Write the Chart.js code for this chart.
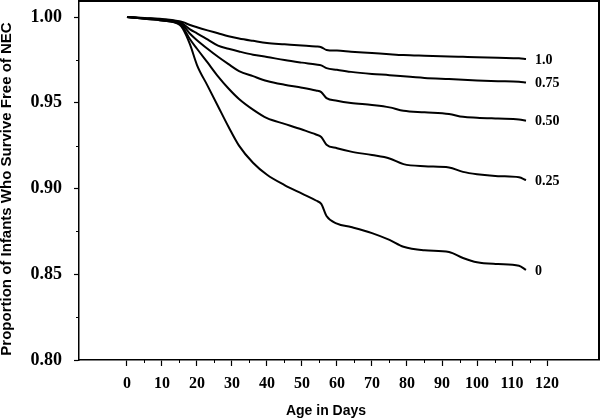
<!DOCTYPE html>
<html>
<head>
<meta charset="utf-8">
<script src="https://cdn.jsdelivr.net/npm/chart.js@4.4.1/dist/chart.umd.min.js"></script>
<style>
html,body{margin:0;padding:0;background:#fff;overflow:hidden;}
#wrap{width:600px;height:418px;overflow:hidden;}
canvas{display:block;}
</style>
</head>
<body>
<div id="wrap"><canvas id="c" width="600" height="418"></canvas></div>
<script>
// ---- data ----
const days    = [0, 5, 10, 15, 16, 18, 20, 23, 26, 29, 32, 36, 40, 45, 50, 54, 55.5, 57, 60, 64, 70, 75, 79, 85, 92, 96, 100, 106, 112, 114];
const surv100 = [1, 0.9994, 0.9988, 0.9975, 0.997, 0.9953, 0.994, 0.9922, 0.9905, 0.9888, 0.9875, 0.9861, 0.9848, 0.9841, 0.9834, 0.9828, 0.9824, 0.9808, 0.9804, 0.9798, 0.979, 0.9783, 0.9778, 0.9774, 0.977, 0.9768, 0.9766, 0.9762, 0.9759, 0.9755];
const surv75  = [1, 0.9993, 0.9986, 0.997, 0.996, 0.9928, 0.9905, 0.9869, 0.9833, 0.9815, 0.9799, 0.978, 0.9767, 0.9749, 0.9734, 0.9723, 0.9718, 0.9702, 0.9692, 0.968, 0.9668, 0.9661, 0.9654, 0.9645, 0.9638, 0.9634, 0.963, 0.9626, 0.9622, 0.9618];
const surv50  = [1, 0.9992, 0.9984, 0.9965, 0.9952, 0.9902, 0.9865, 0.9815, 0.9768, 0.9725, 0.9685, 0.9655, 0.9627, 0.9605, 0.9588, 0.9571, 0.9562, 0.9527, 0.9512, 0.9499, 0.9487, 0.9473, 0.9453, 0.9444, 0.9434, 0.9418, 0.9413, 0.9408, 0.9403, 0.9395];
const surv25  = [1, 0.999, 0.998, 0.996, 0.994, 0.987, 0.9815, 0.9735, 0.9654, 0.9583, 0.9522, 0.946, 0.941, 0.9377, 0.9344, 0.9315, 0.930, 0.9255, 0.9235, 0.9215, 0.9195, 0.9175, 0.9142, 0.913, 0.9123, 0.9097, 0.9083, 0.9072, 0.9065, 0.9049];
const surv0   = [1, 0.999, 0.998, 0.9955, 0.993, 0.984, 0.972, 0.960, 0.948, 0.936, 0.925, 0.915, 0.908, 0.902, 0.897, 0.893, 0.891, 0.884, 0.8795, 0.8775, 0.874, 0.870, 0.866, 0.864, 0.863, 0.8595, 0.857, 0.856, 0.855, 0.8525];
const seriesLabels = ['1.0', '0.75', '0.50', '0.25', '0'];
const xTicks  = [0, 10, 20, 30, 40, 50, 60, 70, 80, 90, 100, 110, 120];
const xMinor  = [5, 15, 25, 35, 45, 55, 65, 75, 85, 95, 105, 115];
const yTicks  = [0.80, 0.85, 0.90, 0.95, 1.00];
const yMinor  = [0.825, 0.875, 0.925, 0.975];
const xTitle  = 'Age in Days';
const yTitle  = 'Proportion of Infants Who Survive Free of NEC';

const X_MIN = -13.714, X_MAX = 134.857, Y_MIN = 0.8, Y_MAX = 1.00933;
const seriesValues = [surv100, surv75, surv50, surv25, surv0];

const datasets = seriesValues.map((vals, i) => ({
  label: seriesLabels[i],
  data: days.map((d, j) => ({x: d, y: vals[j]})),
  borderColor: '#000',
  borderWidth: 2,
  pointRadius: 0,
  fill: false,
  cubicInterpolationMode: 'monotone'
}));

const decor = {
  id: 'decor',
  afterDraw(chart) {
    const ctx = chart.ctx, a = chart.chartArea;
    const xs = chart.scales.x, ys = chart.scales.y;
    ctx.save();
    ctx.setLineDash([]);
    ctx.globalAlpha = 1;
    ctx.fillStyle = '#000000';
    // frame top and right
    ctx.fillRect(a.left, a.top - 1, a.right - a.left + 1, 2);
    ctx.fillRect(a.right - 1, a.top - 1, 2, a.bottom - a.top + 1);
    // minor ticks
    xMinor.forEach(v => { const p = Math.round(xs.getPixelForValue(v)); ctx.fillRect(p, a.bottom, 1, 3); });
    yMinor.forEach(v => { const p = Math.round(ys.getPixelForValue(v)); ctx.fillRect(a.left - 3, p, 3, 1); });
    // series labels at line ends
    ctx.font = 'bold 14px "Liberation Serif", "Times New Roman", serif';
    ctx.textAlign = 'left';
    ctx.textBaseline = 'middle';
    chart.data.datasets.forEach((ds, i) => {
      const pts = chart.getDatasetMeta(i).data;
      const last = pts[pts.length - 1];
      ctx.fillText(seriesLabels[i], last.x + 9, last.y + 1);
    });
    // axis titles
    ctx.font = 'bold 14px "Liberation Sans", Arial, sans-serif';
    ctx.textAlign = 'center';
    ctx.textBaseline = 'alphabetic';
    ctx.fillText(xTitle, 326, 415);
    ctx.font = 'bold 15px "Liberation Sans", Arial, sans-serif';
    ctx.translate(11, 189);
    ctx.rotate(-Math.PI / 2);
    ctx.fillText(yTitle, 0, 0);
    ctx.restore();
  }
};

const serif = '"Liberation Serif", "Times New Roman", serif';

new Chart(document.getElementById('c'), {
  type: 'line',
  data: { datasets },
  options: {
    responsive: false,
    animation: false,
    devicePixelRatio: 1,
    layout: { padding: { top: 1, right: 1, left: 0, bottom: 0 } },
    plugins: { legend: { display: false }, tooltip: { enabled: false }, title: { display: false } },
    scales: {
      x: {
        type: 'linear',
        position: 'bottom',
        min: X_MIN,
        max: X_MAX,
        afterBuildTicks: s => { s.ticks = xTicks.map(v => ({ value: v })); },
        afterFit: s => { s.height = 58; s.paddingLeft = 0; s.paddingRight = 0; },
        border: { display: true, color: '#000', width: 1.5 },
        grid: { drawOnChartArea: false, drawTicks: true, tickLength: 6, tickColor: '#000', tickWidth: 1.2 },
        ticks: {
          color: '#000',
          padding: 8,
          maxRotation: 0,
          autoSkip: false,
          font: { family: serif, weight: 'bold', size: 16 },
          callback: v => String(v)
        }
      },
      y: {
        type: 'linear',
        position: 'left',
        min: Y_MIN,
        max: Y_MAX,
        afterBuildTicks: s => { s.ticks = yTicks.map(v => ({ value: v })); },
        afterFit: s => { s.width = 79; s.paddingTop = 0; s.paddingBottom = 0; },
        border: { display: true, color: '#000', width: 1.5 },
        grid: { drawOnChartArea: false, drawTicks: true, tickLength: 5, tickColor: '#000', tickWidth: 1.2 },
        ticks: {
          color: '#000',
          padding: 12,
          autoSkip: false,
          font: { family: serif, weight: 'bold', size: 18 },
          callback: v => Number(v).toFixed(2)
        }
      }
    }
  },
  plugins: [decor]
});
</script>
</body>
</html>
